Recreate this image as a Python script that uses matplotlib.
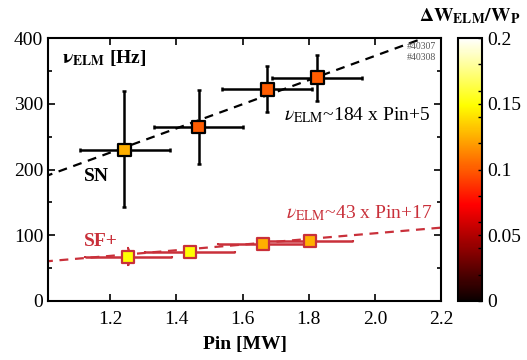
import numpy as np
import matplotlib
matplotlib.use("Agg")
import matplotlib.pyplot as plt
from matplotlib.ticker import MultipleLocator

plt.rcParams['font.family'] = ['Liberation Serif', 'DejaVu Serif']
plt.rcParams['mathtext.fontset'] = 'stix'

# --------------------------------
# DATA
# --------------------------------
# SN discharges
sn_pin = [1.243, 1.467, 1.675, 1.826]
sn_pin_lo = [1.109, 1.331, 1.538, 1.690]
sn_pin_hi = [1.380, 1.602, 1.811, 1.962]
sn_f = [230, 265, 322, 340]
sn_f_lo = [143, 208, 288, 304]
sn_f_hi = [319, 321, 357, 374]
sn_dw = [0.125, 0.1, 0.1, 0.1]

# SF+ discharges
sf_pin = [1.255, 1.442, 1.663, 1.803]
sf_pin_lo = [1.124, 1.306, 1.527, 1.670]
sf_pin_hi = [1.387, 1.576, 1.800, 1.935]
sf_f = [67, 75, 87, 92]
sf_f_lo = [55, 73, 85, 90]
sf_f_hi = [80, 77, 89, 94]
sf_dw = [0.15, 0.15, 0.125, 0.125]

# linear fits
sn_fit = (184, 5)
sf_fit = (43, 17)

red = '#c9303a'

fig = plt.figure(figsize=(5.27, 3.6), dpi=100)
ax = fig.add_axes([0.091, 0.164, 0.746, 0.730])
cax = fig.add_axes([0.869, 0.164, 0.046, 0.730])

xx = np.array([1.0, 2.3])
ax.plot(xx, sn_fit[0] * xx + sn_fit[1], color='black', lw=1.6, ls=(0, (4, 3)), zorder=1)
ax.plot(xx, sf_fit[0] * xx + sf_fit[1], color=red, lw=1.6, ls=(0, (4, 3)), zorder=1)

# error bars
sn_xerr = [np.array(sn_pin) - np.array(sn_pin_lo), np.array(sn_pin_hi) - np.array(sn_pin)]
sn_yerr = [np.array(sn_f) - np.array(sn_f_lo), np.array(sn_f_hi) - np.array(sn_f)]
ax.errorbar(sn_pin, sn_f, xerr=sn_xerr, yerr=sn_yerr, fmt='none', ecolor='black',
            elinewidth=1.8, capsize=1.5, capthick=1.8, zorder=2)
sf_xerr = [np.array(sf_pin) - np.array(sf_pin_lo), np.array(sf_pin_hi) - np.array(sf_pin)]
sf_yerr = [np.array(sf_f) - np.array(sf_f_lo), np.array(sf_f_hi) - np.array(sf_f)]
ax.errorbar(sf_pin, sf_f, xerr=sf_xerr, yerr=sf_yerr, fmt='none', ecolor=red,
            elinewidth=1.8, capsize=1, capthick=1.5, zorder=2)

sc = ax.scatter(sn_pin, sn_f, c=sn_dw, cmap='hot', vmin=0, vmax=0.2, marker='s',
                s=80, edgecolors='black', linewidths=1.6, zorder=3)
ax.scatter(sf_pin, sf_f, c=sf_dw, cmap='hot', vmin=0, vmax=0.2, marker='s',
           s=75, edgecolors=red, linewidths=1.6, zorder=3)

ax.set_xlim(1.012, 2.2)
ax.set_ylim(0, 400)
ax.xaxis.set_major_locator(MultipleLocator(0.2))
ax.yaxis.set_major_locator(MultipleLocator(100))
ax.yaxis.set_minor_locator(MultipleLocator(50))
ax.tick_params(which='both', direction='in', top=True, right=True, labelsize=14, width=1.2)
ax.tick_params(which='major', length=5)
ax.tick_params(which='minor', length=3)
ax.tick_params(axis='x', pad=7)
for sp in ax.spines.values():
    sp.set_linewidth(1.5)

ax.set_xlabel('Pin [MW]', fontsize=14, fontweight='bold', labelpad=6)

ax.text(1.055, 370, r'$\mathbf{\nu_{ELM}}$ [Hz]', fontsize=14, fontweight='bold', va='center')
ax.text(1.12, 189, 'SN', fontsize=14, fontweight='bold', va='center')
ax.text(1.12, 90, 'SF+', fontsize=14, fontweight='bold', color=red, va='center')
ax.text(1.724, 283, r'$\nu_{\rm ELM}$~184 x Pin+5', fontsize=14, va='center')
ax.text(1.73, 134, r'$\nu_{\rm ELM}$~43 x Pin+17', fontsize=14, va='center', color=red)
ax.text(2.185, 388, '#40307', fontsize=7, color='#555555', ha='right', va='center')
ax.text(2.185, 371, '#40308', fontsize=7, color='#555555', ha='right', va='center')

cb = fig.colorbar(sc, cax=cax)
cb.set_ticks([0, 0.05, 0.1, 0.15, 0.2])
cb.set_ticklabels(['0', '0.05', '0.1', '0.15', '0.2'])
cb.ax.yaxis.set_minor_locator(MultipleLocator(0.02))
cb.ax.tick_params(which='both', direction='in', length=3, labelsize=14, width=1)
cb.outline.set_linewidth(1.5)
cb.ax.set_title(r'$\mathbf{\Delta W_{ELM}/W_P}$', fontsize=14, pad=12)

fig.savefig('out.png', dpi=100)
